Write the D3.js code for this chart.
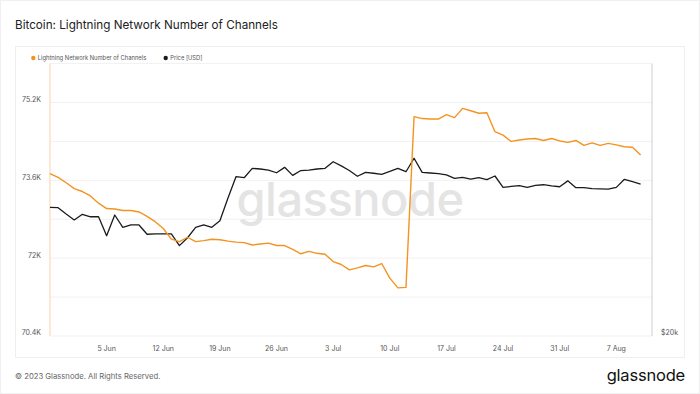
<!DOCTYPE html>
<html>
<head>
<meta charset="utf-8">
<script src="https://cdn.jsdelivr.net/npm/d3@7"></script>
<style>
  html, body { margin: 0; padding: 0; background: #fff; }
  svg { display: block; font-family: Inter, "Noto Sans", sans-serif; }
</style>
</head>
<body>
<svg id="chart" width="700" height="394"></svg>
<script>
// ---- data ----
const dates = d3.timeDays(new Date(2023, 4, 29), new Date(2023, 7, 11)); // 29 May .. 10 Aug 2023
const channels = [
  73740, 73660, 73550, 73430, 73370, 73280, 73130, 73020, 73010, 72980,
  72980, 72950, 72860, 72750, 72610, 72390, 72340, 72430, 72340, 72360,
  72390, 72380, 72350, 72330, 72320, 72270, 72290, 72310, 72260, 72260,
  72180, 72090, 72140, 72100, 72080, 71930, 71870, 71760, 71800, 71850,
  71820, 71890, 71590, 71390, 71400, 74910, 74870, 74860, 74860, 74950,
  74890, 75080, 75030, 74980, 74990, 74600, 74530, 74400, 74430, 74450,
  74460, 74420, 74460, 74410, 74380, 74420, 74320, 74370, 74320, 74360,
  74330, 74290, 74280, 74120
];
const price = [
  27750, 27720, 27280, 26870, 27260, 27090, 27090, 25810, 27210, 26370,
  26530, 26530, 25910, 25930, 25930, 25930, 25170, 25680, 26370, 26530,
  26370, 26820, 28410, 30010, 29920, 30640, 30590, 30510, 30300, 30720,
  30100, 30470, 30510, 30590, 30640, 31160, 30830, 30470, 30030, 30330,
  30260, 30180, 30400, 30640, 30380, 31440, 30330, 30280, 30230, 30130,
  29870, 29950, 29810, 29920, 29780, 30050, 29200, 29260, 29330, 29200,
  29340, 29390, 29300, 29240, 29680, 29170, 29180, 29100, 29080, 29060,
  29190, 29800, 29620, 29440
];
const leftTicks = [70400, 72000, 73600, 75200];
const leftTickLabels = ["70.4K", "72K", "73.6K", "75.2K"];
const gridValues = [70400, 71200, 72000, 72800, 73600, 74400, 75200, 76000];
const xTickDates = [
  new Date(2023, 5, 5), new Date(2023, 5, 12), new Date(2023, 5, 19), new Date(2023, 5, 26),
  new Date(2023, 6, 3), new Date(2023, 6, 10), new Date(2023, 6, 17), new Date(2023, 6, 24),
  new Date(2023, 6, 31), new Date(2023, 7, 7)
];
const rightTicks = [20000];
const rightTickLabels = ["$20k"];
const seriesNames = ["Lightning Network Number of Channels", "Price [USD]"];
const seriesColors = ["#f39321", "#1b1b1b"];

// ---- layout ----
const svg = d3.select("#chart");
const plot = { left: 50, right: 652, top: 63.6, bottom: 336 };

const x = d3.scaleTime().domain([dates[0], dates[dates.length - 1]]).range([50, 640.6]);
const yL = d3.scaleLinear().domain([70400, 76000]).range([plot.bottom, plot.top]);
const yR = d3.scaleLog().domain([20000, 40000]).range([plot.bottom, plot.top]);

// outer frame & card
svg.append("rect").attr("x", 0.5).attr("y", 0.5).attr("width", 699).attr("height", 393)
  .attr("fill", "#fff").attr("stroke", "#f0f0f0");
svg.append("rect").attr("x", 15.5).attr("y", 46.5).attr("width", 669).attr("height", 311)
  .attr("fill", "#fff").attr("stroke", "#efefef");

// title
svg.append("text").attr("x", 15).attr("y", 29).attr("font-size", 11.7).attr("fill", "#222")
  .text("Bitcoin: Lightning Network Number of Channels");

// legend
const legendX = [33.3, 165.7];
seriesNames.forEach((n, i) => {
  svg.append("circle").attr("cx", legendX[i]).attr("cy", 58).attr("r", 2.2).attr("fill", seriesColors[i]);
  svg.append("text").attr("x", legendX[i] + 4.5).attr("y", 58).attr("dy", "0.35em")
    .attr("font-size", 5.8).attr("fill", "#555").text(n);
});

// gridlines
svg.append("g").selectAll("line").data(gridValues).join("line")
  .attr("x1", plot.left).attr("x2", plot.right)
  .attr("y1", d => yL(d)).attr("y2", d => yL(d))
  .attr("stroke", "#f1f1f1").attr("stroke-width", 1);

// watermark
svg.append("text").attr("x", 350).attr("y", 216).attr("text-anchor", "middle")
  .attr("font-size", 47).attr("font-weight", 500).attr("fill", "#e4e4e4")
  .attr("letter-spacing", "-0.5").text("glassnode");

// axes lines
svg.append("line").attr("x1", plot.left).attr("x2", plot.left).attr("y1", plot.top).attr("y2", plot.bottom)
  .attr("stroke", "#fbe1c4").attr("stroke-width", 1.5);
svg.append("line").attr("x1", plot.right).attr("x2", plot.right).attr("y1", plot.top).attr("y2", plot.bottom)
  .attr("stroke", "#cfcfcf").attr("stroke-width", 1);

// left labels
svg.append("g").selectAll("text").data(leftTicks).join("text")
  .attr("x", 41).attr("y", d => yL(d) - 3).attr("dy", "0.35em").attr("text-anchor", "end")
  .attr("font-size", 7).attr("fill", "#555").text((d, i) => leftTickLabels[i]);

// right labels
svg.append("g").selectAll("text").data(rightTicks).join("text")
  .attr("x", 661).attr("y", d => yR(d) - 3.5).attr("dy", "0.35em")
  .attr("font-size", 7).attr("fill", "#555").text((d, i) => rightTickLabels[i]);

// x labels
svg.append("g").selectAll("text").data(xTickDates).join("text")
  .attr("x", d => x(d)).attr("y", 349).attr("dy", "0.35em").attr("text-anchor", "middle")
  .attr("font-size", 7).attr("fill", "#555").text(d => d3.timeFormat("%-d %b")(d));

// lines
const lineL = d3.line().x((d, i) => x(dates[i])).y(d => yL(d));
const lineR = d3.line().x((d, i) => x(dates[i])).y(d => yR(d));
svg.append("path").datum(price).attr("d", lineR).attr("fill", "none")
  .attr("stroke", seriesColors[1]).attr("stroke-width", 1.3).attr("stroke-linejoin", "round");
svg.append("path").datum(channels).attr("d", lineL).attr("fill", "none")
  .attr("stroke", seriesColors[0]).attr("stroke-width", 1.4).attr("stroke-linejoin", "round");

// footer
svg.append("text").attr("x", 15).attr("y", 376).attr("dy", "0.35em")
  .attr("font-size", 7.7).attr("fill", "#666").text("© 2023 Glassnode. All Rights Reserved.");
svg.append("text").attr("x", 685).attr("y", 381).attr("text-anchor", "end")
  .attr("font-size", 16.5).attr("font-weight", 400).attr("fill", "#111").attr("letter-spacing", "-0.2")
  .text("glassnode");
</script>
</body>
</html>
